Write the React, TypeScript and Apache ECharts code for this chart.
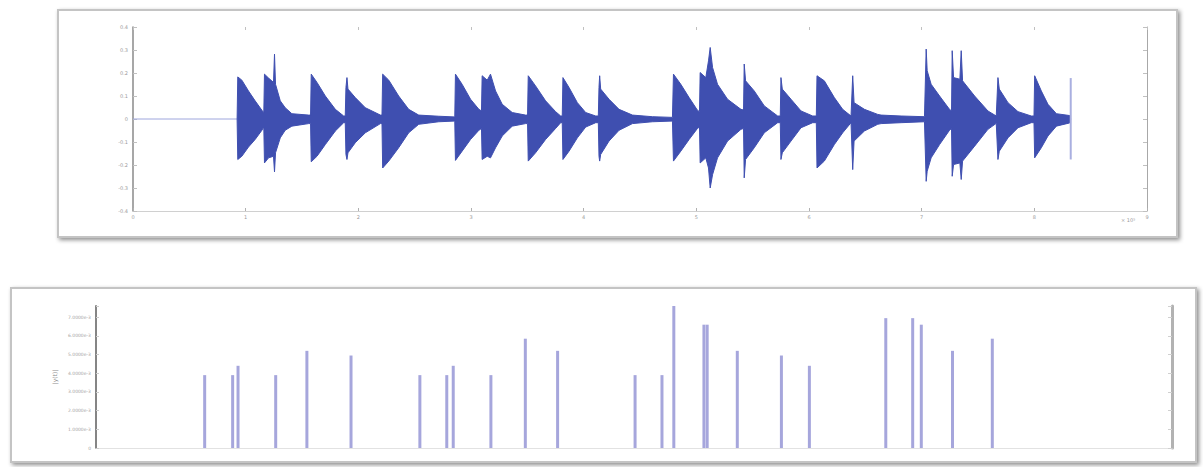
import React, { useEffect, useRef } from "react";
import * as echarts from "echarts";

// ---- Top panel: waveform envelope (time in x10^5 samples, amplitude) ----
const waveTime = [
  0.924, 0.930, 0.966, 1.025, 1.084, 1.144, 1.161, 1.167, 1.203, 1.247, 1.256, 1.265, 1.307, 1.351, 1.410, 1.559,
  1.576, 1.582, 1.633, 1.707, 1.796, 1.870, 1.884, 1.890, 1.899, 1.908, 1.973, 2.062, 2.196, 2.210, 2.216, 2.270,
  2.358, 2.447, 2.536, 2.714, 2.856, 2.862, 2.921, 2.996, 3.070, 3.093, 3.099, 3.144, 3.173, 3.218, 3.277, 3.366,
  3.484, 3.502, 3.508, 3.573, 3.662, 3.751, 3.796, 3.810, 3.816, 3.870, 3.944, 4.018, 4.107, 4.130, 4.136, 4.142,
  4.151, 4.225, 4.314, 4.433, 4.610, 4.788, 4.797, 4.862, 4.936, 5.010, 5.028, 5.034, 5.084, 5.108, 5.123, 5.144,
  5.188, 5.277, 5.396, 5.419, 5.425, 5.437, 5.514, 5.603, 5.722, 5.745, 5.751, 5.763, 5.840, 5.929, 6.033, 6.065,
  6.071, 6.136, 6.225, 6.299, 6.373, 6.388, 6.400, 6.492, 6.610, 6.640, 6.818, 7.025, 7.040, 7.049, 7.084, 7.159,
  7.247, 7.265, 7.271, 7.283, 7.339, 7.351, 7.363, 7.470, 7.588, 7.662, 7.677, 7.689, 7.766, 7.855, 7.973, 7.997,
  8.003, 8.062, 8.121, 8.196, 8.314, 8.323,
];
const waveUpper = [
  0, 0.183, 0.169, 0.122, 0.079, 0.038, 0.028, 0.195, 0.178, 0.159, 0.282, 0.151, 0.079, 0.049, 0.023, 0.017,
  0.017, 0.195, 0.159, 0.100, 0.042, 0.013, 0.013, 0.137, 0.180, 0.130, 0.093, 0.049, 0.017, 0.017, 0.195, 0.169,
  0.100, 0.042, 0.017, 0.012, 0.009, 0.195, 0.151, 0.086, 0.042, 0.035, 0.188, 0.169, 0.195, 0.122, 0.064, 0.028,
  0.017, 0.017, 0.188, 0.144, 0.079, 0.032, 0.013, 0.013, 0.180, 0.137, 0.071, 0.028, 0.013, 0.013, 0.137, 0.188,
  0.130, 0.086, 0.042, 0.017, 0.010, 0.007, 0.195, 0.151, 0.093, 0.038, 0.032, 0.202, 0.180, 0.253, 0.311, 0.224,
  0.151, 0.086, 0.042, 0.039, 0.239, 0.166, 0.122, 0.057, 0.013, 0.013, 0.180, 0.130, 0.086, 0.035, 0.013, 0.013,
  0.188, 0.166, 0.093, 0.042, 0.013, 0.188, 0.071, 0.042, 0.020, 0.017, 0.013, 0.010, 0.304, 0.210, 0.151, 0.100,
  0.042, 0.035, 0.297, 0.180, 0.173, 0.297, 0.166, 0.100, 0.035, 0.013, 0.180, 0.130, 0.071, 0.032, 0.013, 0.013,
  0.188, 0.122, 0.064, 0.023, 0.015, 0,
];
const waveLower = [
  0, -0.176, -0.162, -0.122, -0.089, -0.049, -0.035, -0.191, -0.169, -0.162, -0.230, -0.147, -0.082, -0.049, -0.031, -0.020,
  -0.020, -0.186, -0.162, -0.111, -0.052, -0.016, -0.016, -0.154, -0.176, -0.147, -0.103, -0.060, -0.020, -0.020, -0.213, -0.183,
  -0.125, -0.060, -0.023, -0.012, -0.009, -0.180, -0.140, -0.089, -0.049, -0.041, -0.176, -0.162, -0.169, -0.125, -0.074, -0.031,
  -0.020, -0.020, -0.183, -0.147, -0.089, -0.041, -0.016, -0.016, -0.176, -0.140, -0.082, -0.035, -0.016, -0.016, -0.162, -0.183,
  -0.154, -0.096, -0.049, -0.020, -0.012, -0.009, -0.183, -0.140, -0.089, -0.041, -0.035, -0.191, -0.169, -0.213, -0.300, -0.242,
  -0.169, -0.096, -0.045, -0.041, -0.256, -0.176, -0.125, -0.060, -0.016, -0.016, -0.176, -0.147, -0.096, -0.038, -0.016, -0.016,
  -0.213, -0.183, -0.111, -0.060, -0.016, -0.220, -0.096, -0.052, -0.023, -0.020, -0.016, -0.012, -0.271, -0.227, -0.169, -0.111,
  -0.049, -0.041, -0.249, -0.198, -0.191, -0.263, -0.183, -0.118, -0.045, -0.019, -0.176, -0.140, -0.082, -0.038, -0.016, -0.016,
  -0.169, -0.125, -0.074, -0.031, -0.017, 0,
];
const silenceStart = 0;
const silenceEnd = 0.924;
const clickTime = 8.323;
const clickLow = -0.176;
const clickHigh = 0.178;
const timeMin = 0;
const timeMax = 9;
const ampMin = -0.4;
const ampMax = 0.4;

// ---- Bottom panel: onset detection (frame index, strength) ----
const onsetFrames = [
  101, 127, 132, 167, 196, 237, 301, 326, 332, 367, 399, 429,
  501, 526, 537, 565, 568, 596, 637, 663, 734, 759, 767, 796, 833,
];
const onsetStrength = [
  0.0039, 0.0039, 0.0044, 0.0039, 0.0052, 0.00495, 0.0039, 0.0039, 0.0044, 0.0039, 0.00585, 0.0052,
  0.0039, 0.0039, 0.0076, 0.0066, 0.0066, 0.0052, 0.00495, 0.0044, 0.00695, 0.00695, 0.0066, 0.0052, 0.00585,
];
const frameMax = 1000;
const strengthMax = 0.0076;

const WAVE = "#3F4FB0";

export default function App() {
  const ref = useRef<HTMLDivElement>(null);
  useEffect(() => {
    const chart = echarts.init(ref.current!, null, { renderer: "svg" });
    const upper = waveTime.map((t, i) => [t, waveUpper[i]]);
    const lower = waveTime.map((t, i) => [t, waveLower[i]]);
    const bars = onsetFrames.map((f, i) => [f, onsetStrength[i]]);
    const small = { fontSize: 5, color: "#9a9a9a", fontFamily: "DejaVu Sans" };
    const option: any = {
      animation: false,
      backgroundColor: "#ffffff",
      textStyle: { fontFamily: "DejaVu Sans" },
      graphic: [
        {
          type: "rect", z: -10, silent: true,
          shape: { x: 58, y: 10, width: 1119, height: 227 },
          style: { fill: "#ffffff", stroke: "#c4c4c4", lineWidth: 2, shadowBlur: 4, shadowOffsetX: 2, shadowOffsetY: 2, shadowColor: "rgba(0,0,0,0.45)" },
        },
        {
          type: "rect", z: -10, silent: true,
          shape: { x: 11, y: 288, width: 1185, height: 174 },
          style: { fill: "#ffffff", stroke: "#c4c4c4", lineWidth: 2, shadowBlur: 4, shadowOffsetX: 2, shadowOffsetY: 2, shadowColor: "rgba(0,0,0,0.45)" },
        },
        {
          type: "text", x: 1121, y: 217, silent: true,
          style: { text: "× 10⁵", fontSize: 5, fill: "#9a9a9a", fontFamily: "DejaVu Sans" },
        },
      ],
      grid: [
        { left: 133, right: 56, top: 27, bottom: 256 },
        { left: 96, right: 31, top: 306, bottom: 19 },
      ],
      xAxis: [
        {
          type: "value", gridIndex: 0, position: "bottom", min: timeMin, max: timeMax, interval: 1,
          axisLine: { show: true, onZero: false, lineStyle: { color: "#d0d0d0", width: 1 } },
          axisTick: { show: true, inside: true, length: 3, lineStyle: { color: "#b0b0b0" } },
          axisLabel: { ...small, margin: 3 },
          splitLine: { show: false },
        },
        {
          type: "value", gridIndex: 0, position: "top", min: timeMin, max: timeMax, interval: 1,
          axisLine: { show: false, onZero: false },
          axisTick: { show: true, inside: true, length: 3, lineStyle: { color: "#c0c0c0" } },
          axisLabel: { show: false },
          splitLine: { show: false },
        },
        {
          type: "value", gridIndex: 1, min: 0, max: frameMax,
          axisLine: { show: true, onZero: false, lineStyle: { color: "#e2e2e2", width: 1 } },
          axisTick: { show: false },
          axisLabel: { show: false },
          splitLine: { show: false },
        },
      ],
      yAxis: [
        {
          type: "value", gridIndex: 0, position: "left", min: ampMin, max: ampMax, interval: 0.1,
          axisLine: { show: true, onZero: false, lineStyle: { color: "#8a8a8a", width: 1.5 } },
          axisTick: { show: true, inside: true, length: 4, lineStyle: { color: "#c0c0c0" } },
          axisLabel: { ...small, margin: 5, formatter: (v: number) => String(Math.round(v * 10) / 10) },
          splitLine: { show: false },
        },
        {
          type: "value", gridIndex: 0, position: "right", min: ampMin, max: ampMax, interval: 0.1,
          axisLine: { show: true, onZero: false, lineStyle: { color: "#a8a8a8", width: 1 } },
          axisTick: { show: true, inside: true, length: 4, lineStyle: { color: "#c0c0c0" } },
          axisLabel: { show: false },
          splitLine: { show: false },
        },
        {
          type: "value", gridIndex: 1, position: "left", min: 0, max: strengthMax, interval: 0.001,
          axisLine: { show: true, onZero: false, lineStyle: { color: "#858585", width: 2 } },
          axisTick: { show: true, inside: true, length: 3, lineStyle: { color: "#cccccc" } },
          axisLabel: {
            ...small, fontSize: 4.5, color: "#a5a5a5", margin: 5,
            formatter: (v: number) => {
              const k = v * 1000;
              if (Math.abs(k - Math.round(k)) > 0.01) return "";
              if (Math.round(k) === 0) return "0";
              return Math.round(k) + ".0000e-3";
            },
          },
          name: "|y(t)|", nameLocation: "middle", nameGap: 38, nameRotate: 90,
          nameTextStyle: { fontSize: 6, color: "#8c8c8c", fontFamily: "DejaVu Sans" },
          splitLine: { show: false },
        },
        {
          type: "value", gridIndex: 1, position: "right", min: 0, max: strengthMax, interval: 0.001,
          axisLine: { show: true, onZero: false, lineStyle: { color: "#b2b2b2", width: 3 } },
          axisTick: { show: true, inside: true, length: 4, lineStyle: { color: "#d0d0d0" } },
          axisLabel: { show: false },
          splitLine: { show: false },
        },
      ],
      series: [
        {
          type: "line", xAxisIndex: 0, yAxisIndex: 0, symbol: "none",
          data: [[silenceStart, 0], [silenceEnd, 0]],
          lineStyle: { color: "#9ea6dd", width: 1 },
        },
        {
          type: "line", xAxisIndex: 0, yAxisIndex: 0, symbol: "none", data: upper,
          lineStyle: { color: WAVE, width: 1 }, areaStyle: { color: WAVE, opacity: 1 },
        },
        {
          type: "line", xAxisIndex: 0, yAxisIndex: 0, symbol: "none", data: lower,
          lineStyle: { color: WAVE, width: 1 }, areaStyle: { color: WAVE, opacity: 1 },
        },
        {
          type: "line", xAxisIndex: 0, yAxisIndex: 0, symbol: "none",
          data: [[clickTime, clickLow], [clickTime, clickHigh]],
          lineStyle: { color: "#a9afe0", width: 2 },
        },
        {
          type: "bar", xAxisIndex: 2, yAxisIndex: 2, data: bars, barWidth: 3,
          itemStyle: { color: "#a6a6dc" },
        },
      ],
    };
    chart.setOption(option);
    return () => chart.dispose();
  }, []);
  return (
    <div
      ref={ref}
      style={{ position: "absolute", left: 0, top: 0, width: 1203, height: 467, background: "#ffffff" }}
    />
  );
}
